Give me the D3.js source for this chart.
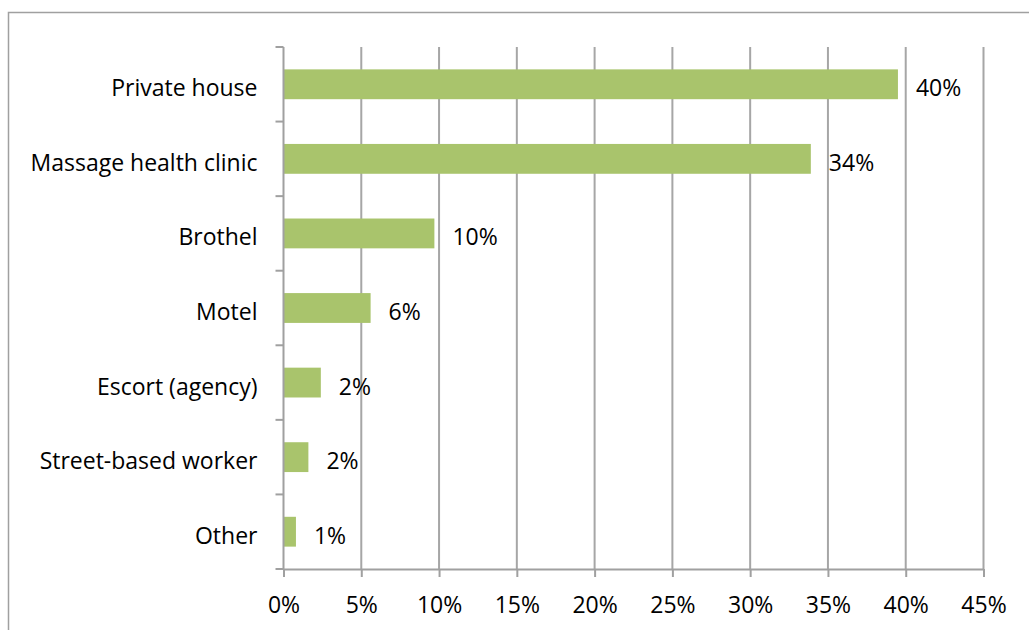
<!DOCTYPE html>
<html>
<head>
<meta charset="utf-8">
<script src="https://cdn.jsdelivr.net/npm/d3@7"></script>
<style>
  body { margin: 0; background: #fff; }
  svg text { font-family: "Open Sans", Lato, sans-serif; fill: #000; }
</style>
</head>
<body>
<div id="chart-area"></div>
<script>
// categories, values (fraction), and labels shown on the bars
const categories = ["Private house", "Massage health clinic", "Brothel", "Motel", "Escort (agency)", "Street-based worker", "Other"]
const values = [0.395, 0.339, 0.097, 0.056, 0.024, 0.016, 0.008]
const valueLabels = ["40%", "34%", "10%", "6%", "2%", "2%", "1%"]
const xTicks = [0, 0.05, 0.10, 0.15, 0.20, 0.25, 0.30, 0.35, 0.40, 0.45]

const W = 1029, H = 630
const MARGIN = {LEFT: 283.5, RIGHT: 45.5, TOP: 47, BOTTOM: 61}
const WIDTH = W - MARGIN.LEFT - MARGIN.RIGHT
const HEIGHT = H - MARGIN.TOP - MARGIN.BOTTOM
const FONT = "23px"

const svg = d3.select("#chart-area").append("svg")
  .attr("width", W)
  .attr("height", H)

// outer frame (only top and left visible in the crop)
svg.append("path")
  .attr("d", `M8.5,${H} V12.5 H${W}`)
  .attr("fill", "none")
  .attr("stroke", "#a0a0a0")
  .attr("stroke-width", 1.5)

const g = svg.append("g")
  .attr("transform", `translate(${MARGIN.LEFT}, ${MARGIN.TOP})`)

const x = d3.scaleLinear()
  .domain([0, 0.45])
  .range([0, WIDTH])

const y = d3.scaleBand()
  .domain(categories)
  .range([0, HEIGHT])
  .paddingInner(0.6)
  .paddingOuter(0.3)

// gridlines
g.selectAll(".grid")
  .data(xTicks.slice(1))
  .enter().append("line")
  .attr("class", "grid")
  .attr("x1", d => x(d)).attr("x2", d => x(d))
  .attr("y1", 0).attr("y2", HEIGHT)
  .attr("stroke", "#a6a6a6")
  .attr("stroke-width", 2)

// bars
g.selectAll(".bar")
  .data(values)
  .enter().append("rect")
  .attr("class", "bar")
  .attr("x", 0)
  .attr("y", (d, i) => y(categories[i]))
  .attr("width", d => x(d))
  .attr("height", y.bandwidth())
  .attr("fill", "#a9c46c")

// value labels
g.selectAll(".val")
  .data(values)
  .enter().append("text")
  .attr("class", "val")
  .attr("x", d => x(d) + 18)
  .attr("y", (d, i) => y(categories[i]) + y.bandwidth() / 2 + 12)
  .attr("font-size", FONT)
  .text((d, i) => valueLabels[i])

// x axis
const xAxisCall = d3.axisBottom(x)
  .tickValues(xTicks)
  .tickFormat(d3.format(".0%"))
  .tickSize(8)
  .tickSizeOuter(0)
const xAxis = g.append("g")
  .attr("transform", `translate(0, ${HEIGHT})`)
  .call(xAxisCall)
xAxis.select(".domain").attr("stroke", "#a0a0a0").attr("stroke-width", 2)
xAxis.selectAll(".tick line").attr("stroke", "#a0a0a0").attr("stroke-width", 2)
xAxis.selectAll("text")
  .attr("y", 44).attr("dy", null)
  .attr("font-size", FONT)
  .attr("font-family", "'Open Sans', Lato, sans-serif")
  .attr("fill", "#000")

// y axis: line with tick marks between categories
g.append("line")
  .attr("x1", 0).attr("x2", 0)
  .attr("y1", 0).attr("y2", HEIGHT)
  .attr("stroke", "#a0a0a0")
  .attr("stroke-width", 2)
g.selectAll(".ytick")
  .data(d3.range(categories.length + 1))
  .enter().append("line")
  .attr("class", "ytick")
  .attr("x1", -8).attr("x2", 0)
  .attr("y1", i => i * HEIGHT / categories.length)
  .attr("y2", i => i * HEIGHT / categories.length)
  .attr("stroke", "#a0a0a0")
  .attr("stroke-width", 2)

g.selectAll(".ylab")
  .data(categories)
  .enter().append("text")
  .attr("class", "ylab")
  .attr("x", -26)
  .attr("y", d => y(d) + y.bandwidth() / 2 + 12)
  .attr("text-anchor", "end")
  .attr("font-size", FONT)
  .text(d => d)
</script>
</body>
</html>
